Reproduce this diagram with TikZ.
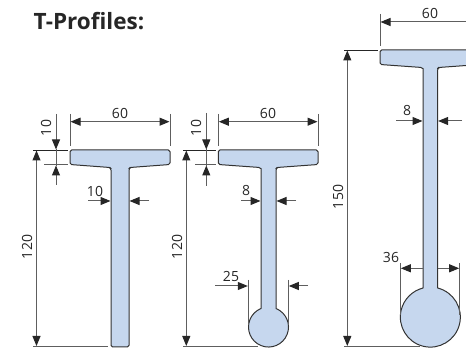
\documentclass[tikz,border=0pt]{standalone}
\usepackage{fontspec}
\setmainfont{Open Sans}
\usetikzlibrary{arrows.meta}
\definecolor{steel}{HTML}{C6D7EE}
\definecolor{dimgrey}{HTML}{5E5E5E}
\definecolor{edge}{HTML}{333333}
\tikzset{
  profile/.style={fill=steel,draw=edge,line width=1pt,line join=round},
  dimline/.style={draw=dimgrey,line width=1pt},
  extline/.style={draw=dimgrey,line width=1pt},
  topline/.style={draw=black!85,line width=0.8pt},
  tip/.style={-{Triangle[length=10pt,width=8pt,color=black!85]}},
  bitip/.style={{Triangle[length=10pt,width=8pt,color=black!85]}-{Triangle[length=10pt,width=8pt,color=black!85]}},
  dimtext/.style={font=\fontsize{14}{16}\selectfont,text=black!85,inner sep=0pt},
  titletext/.style={font=\fontsize{22.5}{25}\selectfont\bfseries,text=black!85,inner sep=0pt,anchor=west},
}
\begin{document}
\begin{tikzpicture}[x=1pt,y=-1pt]
\useasboundingbox (0,0) rectangle (466,352);
\clip (0,0) rectangle (466,352);
\node[titletext] (title) at (33.5,21) {T-Profiles:};

% Profile 1
\draw[profile,rounded corners=1.6pt] (70,150) -- (170,150) -- (170,164.5) -- (130,167.5) -- (129,168.5) -- (129,347) -- (111,347) -- (111,168.5) -- (110,167.5) -- (70,164.5) -- cycle;
\draw[extline] (70,114) -- (70,146);
\draw[extline] (170,114) -- (170,146);
\draw[dimline,bitip] (70.5,121.7) -- (169.5,121.7);
\node[dimtext] (a60) at (120,113) {60};
\draw[topline] (33,150) -- (68,150);
\draw[extline] (44,165) -- (68,165);
\draw[dimline,tip] (56,114) -- (56,149.5);
\draw[dimline,tip] (56,185) -- (56,165.5);
\draw[dimline] (56,149) -- (56,166);
\node[dimtext,rotate=90] (a10) at (46,128) {10};
\draw[dimline,bitip] (36.5,150.5) -- (36.5,346);
\draw[extline] (33,347) -- (108,347);
\node[dimtext,rotate=90] (a120) at (27,247) {120};
\draw[dimline,tip] (88,201) -- (110.5,201);
\draw[dimline,tip] (149,201) -- (129.5,201);
\node[dimtext] (aw) at (95,191) {10};

% Profile 2
\draw[profile,rounded corners=1.6pt] (218.3,150) -- (318,150) -- (318,164.5) -- (277,167.5) -- (276,168.5) [sharp corners] -- (276,308.5) arc[start angle=68,end angle=-248,radius=20pt] -- (261,168.5) [rounded corners=1.6pt] -- (260,167.5) -- (218.3,164.5) -- cycle;
\draw[extline] (218.3,114) -- (218.3,146);
\draw[extline] (318,114) -- (318,146);
\draw[dimline,bitip] (218.8,121.7) -- (317.5,121.7);
\node[dimtext] (b60) at (268,113) {60};
\draw[topline] (183,150) -- (216,150);
\draw[extline] (195,165) -- (216,165);
\draw[dimline,tip] (206.3,113) -- (206.3,149.5);
\draw[dimline,tip] (206.3,186) -- (206.3,165.5);
\draw[dimline] (206.3,149) -- (206.3,166);
\node[dimtext,rotate=90] (b10) at (196,128) {10};
\draw[dimline,bitip] (186.3,150.5) -- (186.3,346);
\draw[extline] (183,347) -- (258,347);
\node[dimtext,rotate=90] (b120) at (177,247) {120};
\draw[dimline,tip] (241,201) -- (260.5,201);
\draw[dimline,tip] (296,201) -- (276.5,201);
\node[dimtext] (bw) at (246,191) {8};
\draw[extline] (248.3,280) -- (248.3,325);
\draw[extline] (288.3,280) -- (288.3,325);
\draw[dimline,tip] (215,286) -- (247.8,286);
\draw[dimline,tip] (308,286) -- (288.8,286);
\node[dimtext] (b25) at (231,276.5) {25};

% Profile 3
\draw[profile,rounded corners=1.6pt] (380,50) -- (480,50) -- (480,64.5) -- (438.6,67.5) -- (437.6,68.5) [sharp corners] -- (437.6,288) arc[start angle=76,end angle=-256,radius=30pt] -- (423,68.5) [rounded corners=1.6pt] -- (422,67.5) -- (380,64.5) -- cycle;
\draw[extline] (380,14) -- (380,46);
\draw[dimline,tip] (466,22) -- (380.5,22);
\node[dimtext] (c60) at (430,13) {60};
\draw[topline] (344,50) -- (378,50);
\draw[dimline,bitip] (347.3,50.5) -- (347.3,346);
\draw[extline] (344,347) -- (420,347);
\node[dimtext,rotate=90] (c150) at (338,197) {150};
\draw[dimline,tip] (396,121) -- (422.5,121);
\draw[dimline,tip] (462,121) -- (438.1,121);
\node[dimtext] (cw) at (407,111) {8};
\draw[extline] (400.3,263) -- (400.3,315);
\draw[extline] (459.7,263) -- (459.7,315);
\draw[dimline,tip] (423,268.3) -- (400.8,268.3);
\draw[dimline,tip] (437.6,268.3) -- (459.2,268.3);
\node[dimtext] (c36) at (391,258) {36};
\end{tikzpicture}
\end{document}
